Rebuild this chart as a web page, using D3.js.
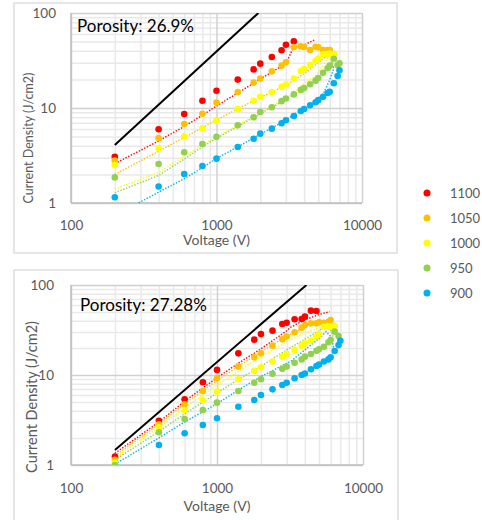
<!DOCTYPE html>
<html>
<head>
<meta charset="utf-8">
<script src="https://cdn.jsdelivr.net/npm/d3@7"></script>
<style>
  body { margin: 0; background: #fff; }
  text { font-family: Lato, "Open Sans", sans-serif; }
</style>
</head>
<body>
<div id="chart"></div>
<script>
// voltages (V) shared by every measured series
const voltages = [200, 400, 600, 800, 1000, 1400, 1800, 2000, 2400, 2800, 3000, 3400,
                  3800, 4000, 4400, 4800, 5000, 5400, 5800, 6000, 6400, 6800, 7000];
const temps = ["1100", "1050", "1000", "950", "900"];
const colors = ["#ff0000", "#ffc000", "#ffff00", "#92d050", "#00b0f0"];
const xMajor = [100, 1000, 10000];
const yMajor = [1, 10, 100];

// porosity 26.9% - current density (J/cm2)
const a1100 = [3.07, 5.97, 8.65, 11.9, 15.2, 19.9, 25.5, 29.3, 34.4, 40.5, 46.4, 50.4];
const a1050 = [2.79, 4.83, 6.79, 8.71, 11.4, 14.7, 18.5, 20.4, 24.3, 27.9, 30.3, 43.9,
               44.6, 43.9, 40.8, 44.2, 43.5, 40.8, 40.8, 40.8];
const a1000 = [2.51, 3.77, 5.03, 6.11, 7.35, 9.76, 11.9, 13.1, 14.7, 16.7, 17.7, 20.4,
               24.5, 25.7, 28.4, 31.5, 33.0, 36.7, 36.9, 37.5, 36.9];
const a950 = [1.86, 2.57, 3.42, 4.18, 4.99, 6.57, 7.98, 9.08, 10.2, 11.8, 12.6, 13.9,
              15.5, 16.2, 17.8, 19.4, 20.7, 23.5, 26.2, 27.9, 33.0, 28.3, 29.5];
const a900 = [1.15, 1.49, 2.02, 2.45, 2.93, 3.88, 4.75, 5.37, 6.06, 6.9, 7.42, 8.24,
              9.3, 9.76, 10.7, 11.5, 12.1, 13.1, 14.4, 14.8, 18.2, 21.7, 24.9];

// porosity 26.9% - dotted curves [V, J]
const aFit1100 = [[200, 2.6], [400, 4.5], [600, 6.4], [800, 8.4], [1000, 10.5], [1400, 14.4],
                  [2000, 20.2], [2800, 27.5], [3000, 29.5], [3400, 44], [4000, 46], [4700, 52]];
const aFit1050 = [[200, 2.0], [400, 3.5], [600, 4.9], [800, 6.2], [1000, 7.5], [1400, 9.8],
                  [2000, 12.9], [3000, 17.3], [3400, 19.5], [4000, 23], [4600, 27], [5400, 33], [6200, 37.5]];
const aFit1000 = [[200, 1.4], [400, 2.1], [600, 3.1], [800, 4.1], [1000, 5.0], [1400, 6.6],
                  [2000, 9.0], [3000, 12.8], [3400, 14.5], [3850, 17.4], [4800, 22], [5400, 28],
                  [5900, 34.7], [6200, 34], [6100, 31]];
const aFit950 = [[200, 1.28], [400, 1.95], [600, 2.9], [800, 3.9], [1000, 4.8], [1400, 6.4],
                 [2000, 8.7], [3000, 12.3], [3400, 13.8], [3850, 14.8], [4800, 19], [5400, 23],
                 [6000, 29.5], [6300, 31], [6200, 27]];
const aFit900 = [[280, 0.97], [400, 1.3], [600, 1.8], [800, 2.35], [1000, 2.95], [1400, 3.9],
                 [2000, 5.3], [3000, 7.4], [3400, 8.6], [4000, 9.7], [5000, 12.5], [5400, 14],
                 [6000, 19.7], [6400, 26.1], [6300, 28]];
const aChild = [[200, 4.08], [1940, 100]];

// porosity 27.28% - current density (J/cm2)
const b1100 = [1.24, 3.1, 5.37, 8.3, 11.4, 17.4, 24.7, 28.5, 31.1, 36.9, 38.1, 41.6,
               41.9, 44.5, 51.9, 51.4];
const b1050 = [1.14, 2.83, 4.74, 6.64, 9.19, 12.4, 15.7, 17.4, 21.2, 24.9, 26.7, 29.8,
               33.6, 35.9, 37.5, 37.5, 38.5, 38.1, 39.1, 40.8];
const b1000 = [1.06, 2.62, 4.08, 5.27, 6.53, 8.96, 11.1, 12.2, 14.1, 16.0, 17.1, 19.0,
               21.2, 22.5, 24.0, 26.7, 28.5, 34.4, 35.0, 34.4, 35.3];
const b950 = [1.0, 2.31, 3.24, 4.08, 4.93, 6.64, 8.2, 8.96, 10.3, 11.7, 12.4, 13.7,
              14.9, 16.0, 17.1, 18.6, 19.3, 20.6, 23.1, 24.5, 30.3, 27.1];
const b900 = [null, 1.67, 2.25, 2.78, 3.31, 4.44, 5.27, 6.0, 6.93, 7.74, 8.2, 9.19,
              10.0, 10.4, 11.6, 12.6, 13.1, 14.1, 14.9, 15.7, 18.5, 21.5, 24.0];

// porosity 27.28% - dotted curves [V, J]
const bFit1100 = [[200, 1.35], [400, 3.0], [600, 5.1], [800, 7.2], [1000, 9.3], [1400, 13.5],
                  [2000, 19.5], [3000, 31], [3200, 34], [4000, 41], [5000, 47], [5900, 50.5]];
const bFit1050 = [[200, 1.27], [400, 2.85], [600, 4.8], [800, 6.7], [1000, 8.7], [1400, 12.5],
                  [2000, 18], [3000, 27], [4000, 34], [5000, 38.5], [6000, 40.5]];
const bFit1000 = [[200, 1.19], [400, 2.65], [600, 4.3], [800, 6.0], [1000, 7.7], [1400, 11],
                  [2000, 16], [3000, 23.5], [4000, 29.5], [5000, 33.5], [5600, 35], [6000, 33]];
const bFit950 = [[200, 1.14], [400, 2.35], [600, 3.7], [800, 5.0], [1000, 6.3], [1400, 8.9],
                 [2000, 12.5], [3000, 19], [4000, 25], [5000, 31], [5400, 34.4], [6000, 31.6], [6300, 25.5]];
const bFit900 = [[200, 1.02], [400, 2.0], [600, 3.0], [800, 3.9], [1000, 4.8], [1400, 6.8],
                 [2000, 9.6], [3000, 13.5], [3200, 14.2], [4000, 19], [5000, 25.5], [5600, 30.4],
                 [6100, 26], [6300, 19.8]];
const bChild = [[200, 1.47], [4100, 100]];

const svg = d3.select("#chart").append("svg")
    .attr("width", 482).attr("height", 520);

function minorTicks(lo, hi) {
    let t = [];
    for (let d = lo; d < hi; d *= 10) {
        for (let k = 2; k <= 9; k++) t.push(d * k);
    }
    return t;
}

function drawPanel(p) {
    const x = d3.scaleLog().domain([100, 10000]).range([p.left, p.right]);
    const y = d3.scaleLog().domain([1, 100]).range([p.bottom, p.top]);
    const h = p.bottom - p.top, w = p.right - p.left;
    const g = svg.append("g");

    g.append("rect")
        .attr("x", p.box[0]).attr("y", p.box[1])
        .attr("width", p.box[2]).attr("height", p.box[3])
        .attr("fill", "#fff").attr("stroke", "#d9d9d9").attr("stroke-width", 1.3);

    const clipId = "clip" + p.id;
    g.append("clipPath").attr("id", clipId)
        .append("rect").attr("x", p.left).attr("y", p.top).attr("width", w).attr("height", h);

    // minor grid
    g.append("g").attr("transform", `translate(0,${p.bottom})`)
        .call(d3.axisBottom(x).tickValues(minorTicks(100, 10000)).tickSize(-h).tickFormat(""))
        .call(s => s.select(".domain").remove())
        .selectAll("line").attr("stroke", "#e9e9e9").attr("stroke-width", 1.5);
    g.append("g").attr("transform", `translate(${p.left},0)`)
        .call(d3.axisLeft(y).tickValues(minorTicks(1, 100)).tickSize(-w).tickFormat(""))
        .call(s => s.select(".domain").remove())
        .selectAll("line").attr("stroke", "#e9e9e9").attr("stroke-width", 1.5);

    // major grid
    g.append("g").attr("transform", `translate(0,${p.bottom})`)
        .call(d3.axisBottom(x).tickValues(xMajor).tickSize(-h).tickFormat(""))
        .call(s => s.select(".domain").remove())
        .selectAll("line").attr("stroke", "#d0d0d0").attr("stroke-width", 1.5);
    g.append("g").attr("transform", `translate(${p.left},0)`)
        .call(d3.axisLeft(y).tickValues(yMajor).tickSize(-w).tickFormat(""))
        .call(s => s.select(".domain").remove())
        .selectAll("line").attr("stroke", "#d0d0d0").attr("stroke-width", 1.5);

    // axis lines
    g.append("line").attr("x1", p.left).attr("x2", p.right).attr("y1", p.bottom).attr("y2", p.bottom)
        .attr("stroke", "#bfbfbf").attr("stroke-width", 1.5);
    g.append("line").attr("x1", p.left).attr("x2", p.left).attr("y1", p.top).attr("y2", p.bottom)
        .attr("stroke", "#bfbfbf").attr("stroke-width", 1.5);

    // tick labels
    const xa = g.append("g").attr("transform", `translate(0,${p.bottom})`)
        .call(d3.axisBottom(x).tickValues(xMajor).tickSize(0).tickPadding(p.xPad).tickFormat(d3.format("d")));
    xa.select(".domain").remove();
    xa.attr("font-family", null).attr("font-size", p.tickFont);
    xa.selectAll("text").attr("fill", "#595959");

    const ya = g.append("g").attr("transform", `translate(${p.left},0)`)
        .call(d3.axisLeft(y).tickValues(yMajor).tickSize(0).tickPadding(p.yPad).tickFormat(d3.format("d")));
    ya.select(".domain").remove();
    ya.attr("font-family", null).attr("font-size", p.tickFont);
    ya.selectAll("text").attr("fill", "#595959");

    // axis titles
    g.append("text").attr("x", (p.left + p.right) / 2).attr("y", p.xTitleY)
        .attr("text-anchor", "middle").attr("font-size", 14).attr("fill", "#595959")
        .text("Voltage (V)");
    g.append("text")
        .attr("transform", `translate(${p.yTitle[0]},${p.yTitle[1]}) rotate(-90)`)
        .attr("text-anchor", "middle").attr("dominant-baseline", "central")
        .attr("font-size", p.yTitleFont).attr("fill", "#595959")
        .text("Current Density (J/cm2)");

    // dotted curves
    const line = d3.line().x(d => x(d[0])).y(d => y(d[1]));
    const plot = g.append("g").attr("clip-path", `url(#${clipId})`);
    p.fits.forEach((f, i) => {
        plot.append("path").datum(f).attr("d", line)
            .attr("fill", "none").attr("stroke", colors[i])
            .attr("stroke-width", 1.4).attr("stroke-dasharray", "1.4,1.6");
    });

    // measured points
    p.dots.forEach((s, i) => {
        const pts = s.map((v, k) => [voltages[k], v]).filter(d => d[1] != null);
        plot.selectAll(null).data(pts).enter().append("circle")
            .attr("cx", d => x(d[0])).attr("cy", d => y(d[1])).attr("r", 3.3)
            .attr("fill", colors[i]);
    });

    plot.append("path").datum(p.child).attr("d", line)
        .attr("fill", "none").attr("stroke", "#000").attr("stroke-width", 2);

    g.append("text").attr("x", p.label[0]).attr("y", p.label[1])
        .attr("font-size", 17).attr("fill", "#000").text(p.label[2]);
}

drawPanel({
    id: 1, box: [14, 3, 383, 250],
    left: 71, right: 362, top: 13, bottom: 203,
    xPad: 17, yPad: 15, tickFont: 13.5, xTitleY: 245,
    yTitle: [28, 138], yTitleFont: 12.5,
    label: [77, 32, "Porosity: 26.9%"],
    dots: [a1100, a1050, a1000, a950, a900],
    fits: [aFit1100, aFit1050, aFit1000, aFit950, aFit900],
    child: aChild
});

drawPanel({
    id: 2, box: [14, 270, 384, 260],
    left: 71, right: 363, top: 285, bottom: 465,
    xPad: 18, yPad: 17, tickFont: 13.5, xTitleY: 511,
    yTitle: [31, 397], yTitleFont: 14.5,
    label: [80, 311, "Porosity: 27.28%"],
    dots: [b1100, b1050, b1000, b950, b900],
    fits: [bFit1100, bFit1050, bFit1000, bFit950, bFit900],
    child: bChild
});

// legend
const legend = svg.append("g");
temps.forEach((t, i) => {
    const cy = 193 + i * 25;
    legend.append("circle").attr("cx", 427).attr("cy", cy).attr("r", 3.5).attr("fill", colors[i]);
    legend.append("text").attr("x", 450).attr("y", cy).attr("dominant-baseline", "central")
        .attr("font-size", 13).attr("fill", "#595959").text(t);
});
</script>
</body>
</html>
